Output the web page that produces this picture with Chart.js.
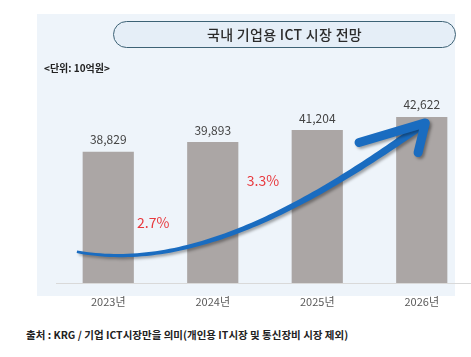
<!DOCTYPE html>
<html>
<head>
<meta charset="utf-8">
<script src="https://cdn.jsdelivr.net/npm/chart.js@4.4.1/dist/chart.umd.min.js"></script>
<style>
  html, body { margin: 0; padding: 0; width: 471px; height: 357px; overflow: hidden; background: #ffffff; }
  body { position: relative; font-family: 'Noto Sans CJK KR', 'Noto Sans', sans-serif; }
  #panel { position: absolute; left: 37px; top: 14px; width: 418px; height: 282px; background: #eef4fa; }
  #wrap { position: absolute; left: 0; top: 0; width: 474px; height: 313px; }
  #title { position: absolute; left: 113px; top: 21px; width: 341px; height: 25px; border: 1.6px solid #3d6275;
           border-radius: 15px; background: #e5eef7; text-align: center; line-height: 25px; font-size: 14px;
           font-weight: 500; color: #2b2b2b; letter-spacing: 0.3px; }
  #unit { position: absolute; left: 44px; top: 60px; font-size: 10px; font-weight: 700; color: #222; }
  #source { position: absolute; left: 26px; top: 327px; font-size: 10.5px; font-weight: 700; color: #222; }
</style>
</head>
<body>
<div id="panel"></div>
<div id="wrap"><canvas id="c" width="474" height="313"></canvas></div>
<div id="title">국내 기업용 ICT 시장 전망</div>
<div id="unit">&lt;단위: 10억원&gt;</div>
<div id="source">출처 : KRG / 기업 ICT시장만을 의미(개인용 IT시장 및 통신장비 시장 제외)</div>
<script>
const categories = ['2023년', '2024년', '2025년', '2026년'];
const marketValues = [38829, 39893, 41204, 42622];
const growthRates = [2.7, 3.3];

Chart.defaults.font.family = "'Noto Sans CJK KR', 'Noto Sans', sans-serif";

// value labels above each bar
const valueLabels = {
  id: 'valueLabels',
  afterDatasetsDraw(chart) {
    const ctx = chart.ctx;
    const meta = chart.getDatasetMeta(0);
    ctx.save();
    ctx.font = "12px 'Noto Sans CJK KR', 'Noto Sans', sans-serif";
    ctx.fillStyle = '#444444';
    ctx.textAlign = 'center';
    ctx.textBaseline = 'middle';
    meta.data.forEach((bar, i) => {
      ctx.fillText(marketValues[i].toLocaleString('en-US'), bar.x, bar.y - 12);
    });
    ctx.restore();
  }
};

// growth arrow + growth-rate labels, anchored in (category index, value) space
const growthArrow = {
  id: 'growthArrow',
  afterDatasetsDraw(chart, args, opts) {
    const ctx = chart.ctx;
    const xs = chart.scales.x, ys = chart.scales.y;
    const P = p => ({ x: xs.getPixelForValue(p[0]), y: ys.getPixelForValue(p[1]) });
    const [p0, p1, p2, p3] = opts.curve.map(P);
    const bez = t => {
      const u = 1 - t;
      return {
        x: u*u*u*p0.x + 3*u*u*t*p1.x + 3*u*t*t*p2.x + t*t*t*p3.x,
        y: u*u*u*p0.y + 3*u*u*t*p1.y + 3*u*t*t*p2.y + t*t*t*p3.y
      };
    };
    const N = 80, left = [], right = [];
    for (let i = 0; i <= N; i++) {
      const t = i / N;
      const a = bez(Math.max(0, t - 0.005)), b = bez(Math.min(1, t + 0.005));
      let dx = b.x - a.x, dy = b.y - a.y;
      const len = Math.hypot(dx, dy) || 1;
      const nx = -dy / len, ny = dx / len;
      const w = 1.3 + 2.6 * t;
      const c = bez(t);
      left.push({ x: c.x + nx * w, y: c.y + ny * w });
      right.push({ x: c.x - nx * w, y: c.y - ny * w });
    }
    ctx.save();
    ctx.shadowColor = 'rgba(0,0,0,0.35)';
    ctx.shadowBlur = 3;
    ctx.shadowOffsetX = 2;
    ctx.shadowOffsetY = 2;
    ctx.fillStyle = '#1a6cc0';
    ctx.beginPath();
    left.forEach((p, i) => i ? ctx.lineTo(p.x, p.y) : ctx.moveTo(p.x, p.y));
    for (let i = right.length - 1; i >= 0; i--) ctx.lineTo(right[i].x, right[i].y);
    ctx.closePath();
    ctx.fill();
    // arrow head
    const hl = P(opts.headLeft), hr = P(opts.headRight);
    ctx.strokeStyle = '#1a6cc0';
    ctx.lineWidth = 9;
    ctx.lineCap = 'round';
    ctx.lineJoin = 'round';
    ctx.beginPath();
    ctx.moveTo(hl.x, hl.y);
    ctx.lineTo(p3.x, p3.y);
    ctx.lineTo(hr.x, hr.y);
    ctx.stroke();
    ctx.restore();

    // growth labels
    ctx.save();
    ctx.font = "14px 'Noto Sans CJK KR', 'Noto Sans', sans-serif";
    ctx.fillStyle = '#e8383d';
    ctx.textAlign = 'center';
    ctx.textBaseline = 'middle';
    opts.labelAnchors.forEach((a, i) => {
      const p = P(a);
      ctx.fillText(growthRates[i].toFixed(1) + '%', p.x, p.y);
    });
    ctx.restore();
  }
};

new Chart(document.getElementById('c'), {
  type: 'bar',
  data: {
    labels: categories,
    datasets: [{
      data: marketValues,
      backgroundColor: '#aba6a5',
      borderWidth: 0,
      categoryPercentage: 1,
      barPercentage: 0.49
    }]
  },
  options: {
    responsive: false,
    animation: false,
    devicePixelRatio: 1,
    layout: { padding: { left: 56, right: 0, top: 95, bottom: 0 } },
    plugins: {
      legend: { display: false },
      tooltip: { enabled: false },
      growthArrow: {
        curve: [[-0.30, 27990], [0.877, 25500], [2.123, 34700], [3.034, 41970]],
        headLeft: [2.40, 39850],
        headRight: [2.965, 38750],
        labelAnchors: [[0.43, 31140], [1.48, 35690]]
      }
    },
    scales: {
      x: {
        grid: { display: false, drawTicks: false },
        border: { display: true, color: '#d9d9d9', width: 1 },
        ticks: { color: '#595959', font: { size: 11 }, padding: 12 },
        afterFit(scale) { scale.height = 30; }
      },
      y: {
        display: false,
        min: 24600,
        max: 45000
      }
    }
  },
  plugins: [valueLabels, growthArrow]
});
</script>
</body>
</html>
